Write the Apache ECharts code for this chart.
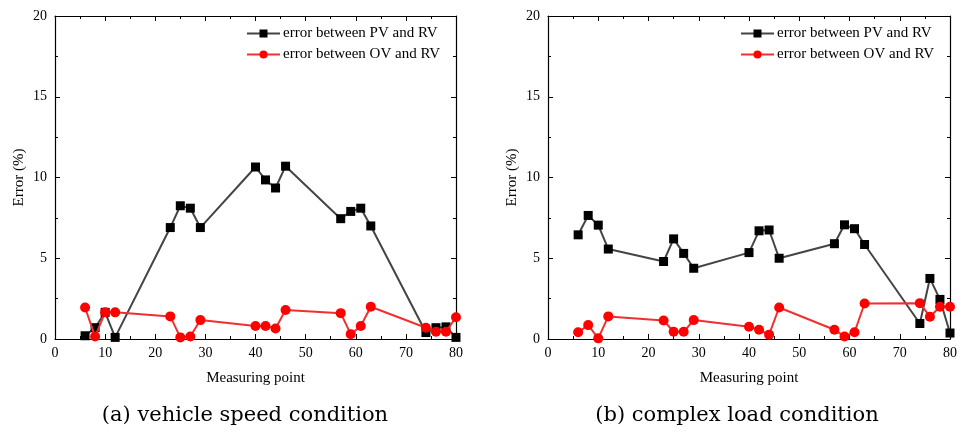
<!DOCTYPE html>
<html>
<head>
<meta charset="utf-8">
<script src="https://cdn.jsdelivr.net/npm/echarts@6/dist/echarts.min.js"></script>
<style>
html,body{margin:0;padding:0;background:#fff;}
#main{width:964px;height:438px;}
</style>
</head>
<body>
<div id="main"></div>
<script>
// ---- data ----
const pointsA = [6, 8, 10, 12, 23, 25, 27, 29, 40, 42, 44, 46, 57, 59, 61, 63, 74, 76, 78, 80];
const pvA = [0.2, 0.7, 1.65, 0.1, 6.9, 8.25, 8.1, 6.9, 10.65, 9.85, 9.35, 10.7, 7.45, 7.9, 8.1, 7.0, 0.4, 0.7, 0.75, 0.1];
const ovA = [1.95, 0.15, 1.65, 1.65, 1.4, 0.1, 0.15, 1.17, 0.8, 0.8, 0.65, 1.8, 1.6, 0.3, 0.8, 2.0, 0.7, 0.45, 0.45, 1.35];

const pointsB = [6, 8, 10, 12, 23, 25, 27, 29, 40, 42, 44, 46, 57, 59, 61, 63, 74, 76, 78, 80];
const pvB = [6.45, 7.65, 7.05, 5.57, 4.8, 6.2, 5.3, 4.38, 5.35, 6.7, 6.75, 5.0, 5.9, 7.07, 6.83, 5.85, 0.96, 3.75, 2.45, 0.37];
const ovB = [0.42, 0.86, 0.04, 1.4, 1.15, 0.45, 0.45, 1.17, 0.76, 0.57, 0.27, 1.95, 0.57, 0.16, 0.42, 2.2, 2.22, 1.38, 2.0, 2.0];

const seriesNames = ['error between PV and RV', 'error between OV and RV'];
const xTitle = 'Measuring point';
const yTitle = 'Error (%)';
const captions = ['(a) vehicle speed condition', '(b) complex load condition'];

// ---- chart ----
const FONT = '"Liberation Serif", "Times New Roman", serif';
const pvColor = '#444444';
const ovColor = '#f03030';

function zip(xs, ys){ return xs.map((x,i)=>[x, ys[i]]); }

const grids = [
  {left: 55, top: 16, width: 401, height: 323},
  {left: 548, top: 16, width: 402, height: 323}
];

const xAxes = [], yAxes = [];
grids.forEach((g, gi) => {
  const base = {
    gridIndex: gi, type: 'value', min: 0, max: 80, interval: 10,
    axisLine: {show: true, onZero: false, lineStyle: {color: '#000', width: 1.2}},
    axisTick: {show: true, inside: true, length: 5, lineStyle: {color: '#000'}},
    minorTick: {show: true, splitNumber: 2, length: 3, lineStyle: {color: '#000'}},
    splitLine: {show: false}
  };
  xAxes.push(Object.assign({}, base, {
    position: 'bottom',
    name: xTitle, nameLocation: 'middle', nameGap: 32,
    nameTextStyle: {fontFamily: FONT, fontSize: 15, color: '#000'},
    axisLabel: {fontFamily: FONT, fontSize: 14, color: '#000', margin: 7}
  }));
  xAxes.push(Object.assign({}, base, {position: 'top', axisLabel: {show: false}}));
  const ybase = {
    gridIndex: gi, type: 'value', min: 0, max: 20, interval: 5,
    axisLine: {show: true, onZero: false, lineStyle: {color: '#000', width: 1.2}},
    axisTick: {show: true, inside: true, length: 5, lineStyle: {color: '#000'}},
    minorTick: {show: true, splitNumber: 2, length: 3, lineStyle: {color: '#000'}},
    splitLine: {show: false}
  };
  yAxes.push(Object.assign({}, ybase, {
    position: 'left',
    name: yTitle, nameLocation: 'middle', nameGap: 28,
    nameTextStyle: {fontFamily: FONT, fontSize: 15, color: '#000'},
    axisLabel: {fontFamily: FONT, fontSize: 14, color: '#000', margin: 8}
  }));
  yAxes.push(Object.assign({}, ybase, {position: 'right', axisLabel: {show: false}}));
});

function mk(name, data, gi, isPV){
  return {
    name: name, type: 'line', data: data,
    xAxisIndex: gi*2, yAxisIndex: gi*2,
    symbol: isPV ? 'rect' : 'circle',
    symbolSize: isPV ? 9 : 10,
    showAllSymbol: true,
    lineStyle: {color: isPV ? pvColor : ovColor, width: 2},
    itemStyle: {color: isPV ? '#000' : '#ff0000'},
    z: isPV ? 2 : 3,
    animation: false
  };
}

const series = [
  mk(seriesNames[0], zip(pointsA, pvA), 0, true),
  mk(seriesNames[1], zip(pointsA, ovA), 0, false),
  mk(seriesNames[0], zip(pointsB, pvB), 1, true),
  mk(seriesNames[1], zip(pointsB, ovB), 1, false)
];

function legendAt(left){
  return {
    left: left, top: 21, orient: 'vertical', padding: 5,
    itemWidth: 33, itemHeight: 10, itemGap: 6,
    textStyle: {fontFamily: FONT, fontSize: 15, color: '#000', padding: [0,0,0,-2]},
    data: seriesNames,
    selectedMode: false
  };
}

const chart = echarts.init(document.getElementById('main'), null, {renderer: 'canvas'});
chart.setOption({
  backgroundColor: '#fff',
  animation: false,
  grid: grids,
  xAxis: xAxes,
  yAxis: yAxes,
  legend: [legendAt(241), legendAt(735)],
  series: series,
  graphic: [
    {type: 'text', x: 245, y: 405, style: {text: captions[0], font: '21px "DejaVu Serif", serif', fill: '#000', textAlign: 'center', textVerticalAlign: 'top'}},
    {type: 'text', x: 737, y: 405, style: {text: captions[1], font: '21px "DejaVu Serif", serif', fill: '#000', textAlign: 'center', textVerticalAlign: 'top'}}
  ]
});
</script>
</body>
</html>
